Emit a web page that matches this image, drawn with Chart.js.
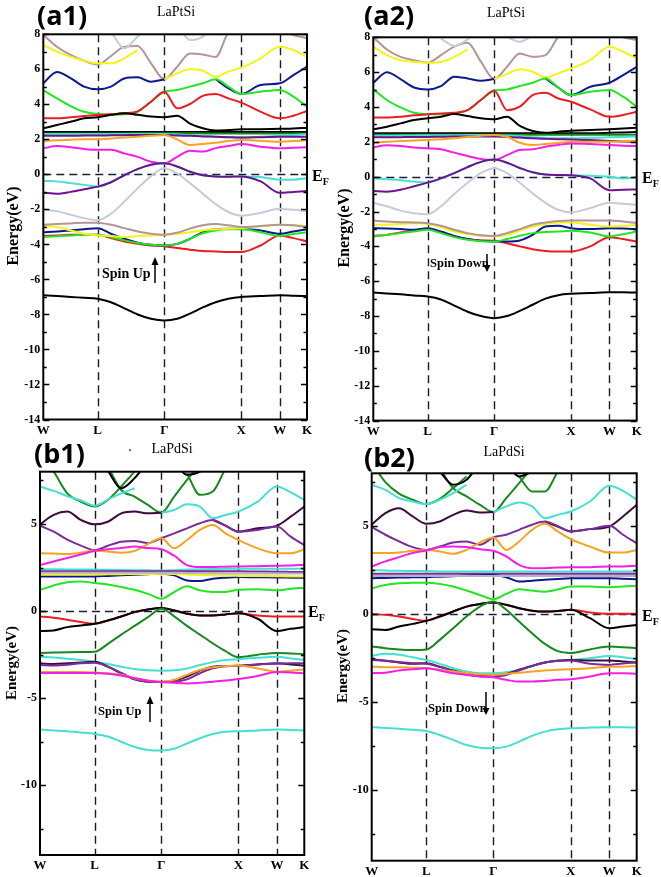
<!DOCTYPE html>
<html><head><meta charset="utf-8">
<script src="https://cdn.jsdelivr.net/npm/chart.js@4.4.1/dist/chart.umd.min.js"></script>
<style>
html,body{margin:0;padding:0;background:#fff}
body{width:661px;height:877px;position:relative;overflow:hidden;font-family:'Liberation Serif',serif;color:#000}
canvas{position:absolute}
.t{position:absolute;white-space:nowrap;line-height:1}
.pl{font-family:'Open Sans',sans-serif;font-weight:700;font-size:27px}
.ti{font-size:14px;transform:translate(-50%,-50%)}
.yt{font-weight:700;transform:translate(-50%,-50%) rotate(-90deg)}
.ef{font-weight:700;font-size:16px;transform:translateY(-50%)}
.ef sub{font-size:10px;vertical-align:-4px}
.sp{font-weight:700;transform:translateY(-50%)}
svg{position:absolute;left:0;top:0}
</style></head><body>
<canvas id="a1" width="330" height="440" style="left:0;top:0"></canvas>
<canvas id="a2" width="331" height="440" style="left:330px;top:0"></canvas>
<canvas id="b1" width="330" height="437" style="left:0;top:440px"></canvas>
<canvas id="b2" width="331" height="437" style="left:330px;top:440px"></canvas>

<div class="t pl" style="left:37px;top:1px">(a1)</div>
<div class="t pl" style="left:364px;top:1px">(a2)</div>
<div class="t pl" style="left:34px;top:439px">(b1)</div>
<div class="t pl" style="left:364px;top:443px">(b2)</div>

<div class="t ti" style="left:176px;top:12px">LaPtSi</div>
<div class="t ti" style="left:506px;top:13px">LaPtSi</div>
<div class="t ti" style="left:130px;top:447px">.</div>
<div class="t ti" style="left:172px;top:449px">LaPdSi</div>
<div class="t ti" style="left:504px;top:452px">LaPdSi</div>

<div class="t yt" style="left:13px;top:226px;font-size:16px">Energy(eV)</div>
<div class="t yt" style="left:344px;top:228px;font-size:16px">Energy(eV)</div>
<div class="t yt" style="left:11px;top:663px;font-size:15px">Energy(eV)</div>
<div class="t yt" style="left:342px;top:666px;font-size:15px">Energy(eV)</div>

<div class="t ef" style="left:312px;top:177px">E<sub>F</sub></div>
<div class="t ef" style="left:642px;top:179px">E<sub>F</sub></div>
<div class="t ef" style="left:308px;top:613px">E<sub>F</sub></div>
<div class="t ef" style="left:642px;top:617px">E<sub>F</sub></div>

<div class="t sp" style="left:102px;top:274px;font-size:14px">Spin Up</div>
<div class="t sp" style="left:430px;top:263px;font-size:12.5px">Spin Down</div>
<div class="t sp" style="left:98px;top:711px;font-size:12.5px">Spin Up</div>
<div class="t sp" style="left:428px;top:708px;font-size:12.5px">Spin Down</div>

<svg width="661" height="877">
  <g stroke="#000" stroke-width="1.5" fill="#000">
    <line x1="155" y1="283" x2="155" y2="263"/><polygon points="151.5,265 158.5,265 155,257" stroke="none"/>
    <line x1="487" y1="254" x2="487" y2="266"/><polygon points="483.5,265 490.5,265 487,272" stroke="none"/>
    <line x1="150" y1="722" x2="150" y2="702"/><polygon points="146.5,704 153.5,704 150,696" stroke="none"/>
    <line x1="486" y1="692" x2="486" y2="709"/><polygon points="482.5,708 489.5,708 486,715" stroke="none"/>
  </g>
</svg>

<script>
// ---- k-path grid (W-L-Γ-X-W-K) ----
const K = [0, 0.177, 0.354, 0.530, 0.707, 0.880, 1.053, 1.226, 1.400, 1.573, 1.740, 1.906, 2.073, 2.240, 2.406, 2.573, 2.823, 3.073, 3.250, 3.427];
const KPOS = [0, 0.707, 1.573, 2.573, 3.073, 3.427];
const KLAB = ['W', 'L', 'Γ', 'X', 'W', 'K'];
const A_TICKS = [-14, -12, -10, -8, -6, -4, -2, 0, 2, 4, 6, 8];
const A_MINOR = [-13, -11, -9, -7, -5, -3, -1, 1, 3, 5, 7];
const B_TICKS = [-10, -5, 0, 5];
const B_MINOR = [-12.5, -7.5, -2.5, 2.5, 7.5];

// ---- (a1) LaPtSi spin up ----
const a1Deep    = [-6.9,-6.95,-7.0,-7.05,-7.1,-7.3,-7.65,-8.0,-8.25,-8.35,-8.25,-7.95,-7.6,-7.3,-7.1,-7.0,-6.95,-6.9,-6.93,-6.95];
const a1RedLo   = [-3.52,-3.49,-3.45,-3.45,-3.45,-3.64,-3.83,-3.97,-4.06,-4.1,-4.21,-4.3,-4.38,-4.4,-4.44,-4.44,-4.06,-3.49,-3.64,-3.83];
const a1GreenLo = [-3.58,-3.53,-3.49,-3.45,-3.45,-3.58,-3.77,-3.92,-4.02,-4.06,-3.97,-3.68,-3.36,-3.2,-3.14,-3.14,-3.3,-3.52,-3.41,-3.3];
const a1BlueLo  = [-3.3,-3.26,-3.2,-3.14,-3.07,-3.39,-3.68,-3.9,-4.02,-4.06,-3.97,-3.68,-3.3,-3.14,-3.1,-3.1,-3.2,-3.39,-3.26,-3.14];
const a1YellowLo= [-2.95,-3.01,-3.2,-3.39,-3.49,-3.52,-3.58,-3.52,-3.49,-3.45,-3.39,-3.3,-3.2,-3.14,-3.1,-3.07,-2.97,-2.88,-2.91,-2.95];
const a1BrownLo = [-2.88,-2.84,-2.8,-2.76,-2.76,-2.88,-3.07,-3.26,-3.39,-3.45,-3.33,-3.1,-2.91,-2.84,-2.91,-3.01,-2.95,-2.88,-2.91,-3.01];
const a1GrayLo  = [-2.0,-2.1,-2.3,-2.5,-2.62,-2.25,-1.55,-0.8,-0.1,0.35,0.05,-0.5,-1.1,-1.7,-2.15,-2.36,-2.2,-1.96,-2.02,-2.1];
const a1Purple  = [-1.05,-1.1,-1.0,-0.85,-0.7,-0.45,-0.05,0.3,0.55,0.63,0.45,0.15,-0.05,-0.12,-0.13,-0.12,-0.4,-1.05,-1.0,-0.95];
const a1Cyan    = [-0.38,-0.4,-0.5,-0.6,-0.7,-0.45,-0.05,0.3,0.55,0.63,0.45,0.15,-0.05,-0.12,-0.13,-0.12,-0.15,-0.3,-0.3,-0.22];
const a1Magenta = [1.49,1.62,1.55,1.45,1.4,1.4,1.2,1.0,0.72,0.63,1.0,1.35,1.3,1.5,1.62,1.73,1.58,1.49,1.52,1.55];
const a1Orange  = [1.9,1.95,1.98,2.0,2.0,2.05,2.1,2.15,2.2,2.25,2.0,1.68,1.73,1.8,1.9,1.96,1.92,1.87,1.9,1.96];
const a1FlatPur = [2.2,2.2,2.2,2.22,2.22,2.23,2.24,2.25,2.25,2.25,2.22,2.2,2.17,2.15,2.12,2.1,2.12,2.15,2.15,2.15];
const a1FlatCyan= [2.3,2.3,2.3,2.3,2.3,2.3,2.3,2.3,2.3,2.3,2.28,2.25,2.2,2.15,2.12,2.1,2.15,2.2,2.25,2.3];
const a1FlatGrn = [2.34,2.34,2.34,2.34,2.34,2.34,2.34,2.35,2.35,2.35,2.35,2.35,2.34,2.34,2.34,2.34,2.34,2.34,2.34,2.34];
const a1FlatBlk = [2.42,2.42,2.42,2.42,2.42,2.42,2.42,2.42,2.42,2.42,2.42,2.42,2.42,2.42,2.42,2.42,2.42,2.42,2.42,2.42];
const a1BlackUp = [2.63,2.82,3.0,3.2,3.26,3.4,3.49,3.4,3.3,3.26,3.35,2.9,2.63,2.5,2.53,2.57,2.58,2.6,2.62,2.67];
const a1RedUp   = [3.2,3.2,3.26,3.33,3.39,3.44,3.49,3.6,4.15,4.72,3.77,4.02,4.48,4.59,4.34,4.1,3.58,3.2,3.35,3.62];
const a1GreenUp = [4.82,4.34,3.9,3.58,3.45,3.41,3.43,3.58,4.15,4.72,4.82,5.01,5.2,5.43,5.01,4.59,4.72,4.82,4.44,3.87];
const a1BlueUp  = [5.2,5.85,5.5,5.01,4.86,5.01,5.48,5.54,5.29,5.43,null,null,null,5.43,4.91,4.59,5.1,5.2,5.67,6.15];
const a1YellowUp= [7.39,7.01,6.72,6.49,6.34,6.34,6.63,7.1,null,5.43,5.77,6.0,5.92,5.58,5.87,6.1,6.63,7.29,7.1,6.72];
const a1BrownUp = [7.96,7.29,6.82,6.49,6.28,6.76,7.29,7.33,6.34,5.43,6.15,6.91,6.85,6.7,8.15,8.8,8.6,8.3,7.96,7.77];
const a1GrayUp  = [null,null,null,null,null,8.15,7.2,7.87,8.6,null,8.6,7.67,7.87,8.6,null,null,null,null,null,null];

// ---- (a2) LaPtSi spin down ----
const a2Deep    = [-6.65,-6.7,-6.75,-6.82,-6.88,-7.05,-7.4,-7.75,-8.0,-8.12,-8.0,-7.7,-7.35,-7.0,-6.8,-6.72,-6.68,-6.63,-6.64,-6.65];
const a2RedLo   = [-3.4,-3.34,-3.2,-3.09,-3.01,-3.2,-3.43,-3.58,-3.66,-3.68,-3.82,-4.0,-4.16,-4.26,-4.29,-4.29,-4.0,-3.47,-3.58,-3.72];
const a2GreenLo = [-3.43,-3.34,-3.24,-3.15,-3.05,-3.24,-3.47,-3.62,-3.7,-3.72,-3.58,-3.39,-3.24,-3.17,-3.15,-3.11,-3.2,-3.43,-3.3,-3.15];
const a2BlueLo  = [-2.96,-2.98,-3.01,-3.05,-2.96,-3.15,-3.4,-3.58,-3.68,-3.72,-3.72,-3.66,-3.34,-2.86,-2.82,-2.96,-3.01,-2.96,-2.98,-3.01];
const a2YellowLo= [-2.76,-2.76,-2.71,-2.67,-2.71,-2.9,-3.15,-3.3,-3.39,-3.43,-3.34,-3.09,-2.86,-2.71,-2.63,-2.63,-2.76,-2.86,-2.82,-2.76];
const a2BrownLo = [-2.52,-2.57,-2.61,-2.63,-2.67,-2.82,-3.05,-3.24,-3.36,-3.4,-3.24,-3.01,-2.76,-2.63,-2.54,-2.52,-2.52,-2.52,-2.57,-2.67];
const a2GrayLo  = [-1.5,-1.7,-1.95,-2.1,-2.15,-1.7,-1.0,-0.35,0.2,0.48,0.2,-0.35,-0.95,-1.5,-1.9,-2.05,-1.8,-1.5,-1.55,-1.62];
const a2Purple  = [-0.82,-0.86,-0.75,-0.55,-0.34,-0.1,0.2,0.55,0.85,0.98,0.8,0.5,0.25,0.12,0.1,0.08,-0.1,-0.78,-0.75,-0.73];
const a2Cyan    = [-0.1,-0.15,-0.2,-0.28,-0.34,-0.1,0.2,0.55,0.85,0.98,0.8,0.5,0.25,0.12,0.1,0.08,0.05,0.0,-0.1,-0.03];
const a2Magenta = [1.68,1.8,1.76,1.68,1.63,1.57,1.38,1.19,1.01,0.96,1.24,1.53,1.57,1.72,1.82,1.91,1.87,1.82,1.78,1.76];
const a2Orange  = [1.95,2.0,2.05,2.08,2.1,2.15,2.2,2.28,2.35,2.39,2.29,1.95,1.82,1.88,1.93,2.0,2.0,2.0,2.03,2.06];
const a2FlatPur = [2.26,2.26,2.27,2.28,2.28,2.29,2.3,2.3,2.3,2.3,2.28,2.25,2.2,2.17,2.15,2.14,2.1,2.05,2.02,2.0];
const a2FlatCyan= [2.35,2.35,2.36,2.37,2.38,2.38,2.38,2.39,2.39,2.39,2.36,2.32,2.27,2.23,2.2,2.2,2.23,2.26,2.28,2.3];
const a2FlatGrn = [2.4,2.4,2.4,2.4,2.4,2.4,2.41,2.41,2.41,2.41,2.41,2.41,2.4,2.4,2.4,2.4,2.4,2.4,2.4,2.4];
const a2FlatBlk = [2.5,2.5,2.5,2.5,2.5,2.5,2.5,2.5,2.5,2.5,2.5,2.5,2.5,2.5,2.5,2.5,2.5,2.52,2.54,2.56];
const a2BlackUp = [2.72,2.87,3.06,3.25,3.35,3.44,3.6,3.48,3.35,3.29,3.44,2.91,2.62,2.52,2.58,2.64,2.68,2.72,2.76,2.81];
const a2RedUp   = [3.4,3.4,3.44,3.52,3.58,3.63,3.67,3.82,4.4,4.93,3.82,4.02,4.68,4.82,4.49,4.3,3.86,3.44,3.54,3.73];
const a2GreenUp = [5.01,4.4,3.98,3.67,3.59,3.59,3.63,3.82,4.4,4.93,5.01,5.2,5.39,5.64,5.12,4.68,4.88,4.97,4.59,4.02];
const a2BlueUp  = [5.39,6.0,5.6,5.12,5.01,5.2,5.74,5.64,5.51,5.6,null,null,null,5.64,5.12,4.68,5.16,5.39,5.83,6.31];
const a2YellowUp= [7.46,6.98,6.69,6.6,6.54,6.58,6.88,7.3,null,5.6,5.89,6.16,6.02,5.7,5.93,6.21,6.69,7.46,7.17,6.79];
const a2BrownUp = [8.0,7.3,6.88,6.69,6.54,6.98,7.46,7.69,6.6,5.6,6.31,7.07,6.88,6.98,8.03,8.7,8.6,8.3,8.0,7.84];
const a2GrayUp  = [null,null,null,null,null,7.93,7.5,7.88,8.6,null,8.03,7.74,8.13,8.6,null,null,null,null,null,null];

// ---- (b1) LaPdSi spin up ----
const b1Deep    = [-6.8,-6.85,-6.9,-6.97,-7.05,-7.2,-7.5,-7.8,-7.97,-8.0,-7.9,-7.6,-7.3,-7.05,-6.92,-6.9,-6.85,-6.8,-6.83,-6.86];
const b1MagLo   = [-3.55,-3.55,-3.55,-3.55,-3.55,-3.6,-3.7,-3.85,-4.0,-4.07,-4.12,-4.15,-4.12,-4.05,-3.98,-3.9,-3.72,-3.5,-3.52,-3.57];
const b1OrangeLo= [-3.5,-3.5,-3.5,-3.5,-3.52,-3.57,-3.66,-3.86,-3.99,-4.05,-3.95,-3.66,-3.38,-3.23,-3.16,-3.12,-3.29,-3.48,-3.42,-3.35];
const b1PurLo   = [-3.1,-3.12,-3.08,-3.0,-2.97,-3.19,-3.55,-3.9,-4.05,-4.07,-4.05,-3.92,-3.57,-3.29,-3.16,-3.14,-3.06,-3.02,-3.0,-3.0];
const b1DPurLo  = [-3.0,-3.04,-3.0,-2.95,-2.91,-3.19,-3.57,-3.92,-4.05,-4.07,-3.99,-3.76,-3.42,-3.19,-3.15,-3.14,-3.06,-3.0,-3.06,-3.14];
const b1CyanLo  = [-2.62,-2.66,-2.74,-2.81,-2.91,-3.04,-3.19,-3.33,-3.4,-3.42,-3.4,-3.29,-3.1,-2.93,-2.81,-2.76,-2.68,-2.62,-2.72,-2.81];
const b1DGreenV = [-2.4,-2.38,-2.36,-2.35,-2.34,-1.88,-1.35,-0.85,-0.35,0.13,-0.3,-0.85,-1.35,-1.85,-2.3,-2.65,-2.5,-2.4,-2.43,-2.47];
const b1Black   = [-1.15,-1.11,-0.92,-0.83,-0.73,-0.54,-0.31,-0.06,0.09,0.17,0.04,-0.15,-0.25,-0.25,-0.19,-0.12,-0.44,-1.15,-1.02,-0.92];
const b1Red     = [-0.31,-0.38,-0.5,-0.63,-0.73,-0.54,-0.31,-0.06,0.09,0.17,0.04,-0.15,-0.25,-0.25,-0.19,-0.12,-0.25,-0.31,-0.31,-0.31];
const b1Green   = [1.22,1.47,1.66,1.7,1.61,1.53,1.38,1.22,0.99,0.71,1.09,1.42,1.19,1.09,1.1,1.22,1.25,1.19,1.28,1.34];
const b1Blue    = [1.99,1.99,1.99,1.99,1.99,2.02,2.05,2.09,2.12,2.14,2.05,1.76,1.72,1.86,1.92,1.95,1.94,1.93,1.92,1.91];
const b1Yellow  = [2.1,2.1,2.1,2.1,2.1,2.11,2.12,2.13,2.13,2.14,2.13,2.1,2.07,2.05,2.03,2.02,2.01,2.0,1.99,1.99];
const b1FlatGray= [2.2,2.2,2.2,2.2,2.2,2.2,2.2,2.2,2.2,2.2,2.2,2.19,2.18,2.17,2.16,2.15,2.15,2.15,2.15,2.15];
const b1FlatPur = [2.28,2.28,2.28,2.28,2.28,2.28,2.28,2.28,2.28,2.28,2.28,2.28,2.28,2.28,2.28,2.28,2.27,2.26,2.25,2.24];
const b1FlatCyan= [2.4,2.4,2.39,2.39,2.38,2.37,2.36,2.35,2.34,2.33,2.35,2.38,2.4,2.42,2.43,2.43,2.43,2.43,2.43,2.43];
const b1MagUp   = [2.65,2.85,3.05,3.25,3.45,3.55,3.62,3.7,3.62,3.55,3.18,2.64,2.53,2.53,2.55,2.56,2.58,2.6,2.62,2.65];
const b1OrangeUp= [3.32,3.3,3.28,3.35,3.47,3.42,3.35,3.45,3.85,4.18,3.6,4.08,4.66,4.94,4.46,4.08,3.6,3.32,3.32,3.54];
const b1PurUp   = [4.9,4.56,4.1,3.76,3.5,3.75,3.98,4.02,3.9,4.18,4.46,4.75,5.04,5.23,4.9,4.56,4.66,4.85,4.27,3.79];
const b1DPurUp  = [4.98,5.52,5.71,5.23,4.98,5.13,5.61,5.71,5.61,5.65,null,null,null,5.23,4.9,4.56,4.75,4.9,5.42,6.0];
const b1CyanUp  = [7.15,6.9,6.6,6.35,6.05,6.4,6.76,7.05,null,5.65,5.8,6.13,6.0,5.33,5.52,5.71,6.28,7.15,6.82,6.38];
const b1DGreen1 = [8.9,8.0,6.76,6.28,6.0,6.38,7.15,8.0,null,null,null,null,null,null,null,null,null,null,null,null];
const b1DGreen2 = [null,null,null,null,null,8.3,6.95,6.57,6.09,5.65,6.57,7.53,8.4,null,null,null,null,null,null,null];
const b1DGreen3 = [null,null,null,null,null,null,null,null,null,null,null,7.9,6.67,6.86,8.2,null,null,null,null,null];
const b1BlackUp1= [null,null,null,null,null,8.05,7.05,7.63,8.6,null,null,null,null,null,null,null,null,null,null,null];
const b1BlackUp2= [null,null,null,null,null,null,null,null,null,null,8.6,7.82,8.0,8.6,null,null,null,null,null,null];

// ---- (b2) LaPdSi spin down ----
const b2Deep    = [-6.42,-6.46,-6.5,-6.56,-6.63,-6.86,-7.14,-7.43,-7.58,-7.62,-7.52,-7.24,-6.91,-6.67,-6.54,-6.48,-6.44,-6.42,-6.42,-6.44];
const b2MagLo   = [-3.35,-3.32,-3.2,-3.13,-3.07,-3.2,-3.35,-3.45,-3.54,-3.58,-3.73,-3.83,-3.83,-3.79,-3.73,-3.7,-3.54,-3.35,-3.35,-3.39];
const b2OrangeLo= [-2.98,-3.01,-3.01,-3.04,-3.07,-3.16,-3.26,-3.35,-3.41,-3.45,-3.39,-3.32,-3.26,-3.2,-3.16,-3.13,-3.07,-2.98,-2.98,-2.94];
const b2PurLo   = [-2.6,-2.65,-2.72,-2.78,-2.82,-3.0,-3.22,-3.42,-3.52,-3.54,-3.45,-3.2,-2.94,-2.75,-2.65,-2.63,-2.82,-2.88,-2.8,-2.75];
const b2DPurLo  = [-2.56,-2.65,-2.75,-2.82,-2.79,-2.98,-3.2,-3.39,-3.5,-3.5,-3.39,-3.16,-2.94,-2.75,-2.65,-2.6,-2.63,-2.63,-2.69,-2.75];
const b2CyanLo  = [-2.37,-2.25,-2.3,-2.45,-2.6,-2.82,-3.07,-3.26,-3.35,-3.35,-3.3,-3.16,-2.94,-2.75,-2.63,-2.6,-2.5,-2.37,-2.45,-2.56];
const b2DGreenV = [-1.84,-1.93,-2.0,-2.03,-2.0,-1.46,-0.8,-0.13,0.43,0.72,0.25,-0.42,-1.08,-1.69,-2.1,-2.2,-2.0,-1.84,-1.88,-1.93];
const b2Black   = [-0.86,-0.9,-0.7,-0.55,-0.38,-0.13,0.15,0.43,0.58,0.66,0.53,0.34,0.2,0.15,0.18,0.25,-0.23,-0.8,-0.7,-0.61];
const b2Red     = [0.0,-0.04,-0.13,-0.27,-0.38,-0.13,0.15,0.43,0.58,0.66,0.53,0.34,0.2,0.15,0.18,0.25,0.09,0.02,0.02,0.02];
const b2Green   = [1.47,1.66,1.75,1.79,1.79,1.72,1.57,1.34,1.09,0.85,1.15,1.42,1.34,1.28,1.4,1.57,1.57,1.53,1.57,1.62];
const b2Blue    = [2.04,2.06,2.08,2.09,2.1,2.13,2.16,2.19,2.21,2.23,2.1,1.85,1.9,1.96,2.0,2.04,2.04,2.04,2.01,1.98];
const b2FlatGray= [2.17,2.17,2.17,2.17,2.17,2.17,2.17,2.17,2.17,2.17,2.17,2.17,2.17,2.17,2.17,2.17,2.17,2.17,2.17,2.17];
const b2FlatPur = [2.29,2.29,2.29,2.29,2.29,2.29,2.29,2.29,2.29,2.29,2.29,2.29,2.29,2.29,2.29,2.29,2.29,2.29,2.29,2.29];
const b2FlatCyan= [2.5,2.48,2.46,2.45,2.44,2.43,2.43,2.42,2.42,2.42,2.42,2.42,2.42,2.42,2.42,2.42,2.42,2.42,2.42,2.42];
const b2MagUp   = [2.71,3.0,3.24,3.47,3.62,3.81,3.84,3.81,3.69,3.6,3.28,2.8,2.61,2.61,2.65,2.67,2.67,2.71,2.71,2.75];
const b2OrangeUp= [3.47,3.47,3.5,3.6,3.65,3.56,3.43,3.65,4.07,4.36,3.65,4.13,4.79,5.13,4.7,4.26,3.84,3.5,3.5,3.65];
const b2PurUp   = [4.94,4.51,4.13,3.81,3.65,3.84,4.07,4.13,3.94,4.36,4.51,4.79,5.08,5.26,5.0,4.7,4.83,5.02,4.51,4.03];
const b2DPurUp  = [5.08,5.74,6.02,5.55,5.13,5.26,5.64,5.89,5.78,5.8,null,null,null,5.26,4.98,4.7,4.83,4.98,5.55,6.21];
const b2CyanUp  = [7.35,7.06,6.59,6.4,6.25,6.5,6.87,7.35,null,5.8,6.12,6.34,6.12,5.45,5.64,5.83,6.4,7.29,7.0,6.5];
const b2DGreen1 = [8.6,7.5,6.85,6.5,6.25,6.55,7.16,7.82,null,null,null,null,null,null,null,null,null,null,null,null];
const b2DGreen2 = [null,null,null,null,null,8.3,7.16,6.69,6.21,5.8,6.59,7.44,8.3,null,null,null,null,null,null,null];
const b2DGreen3 = [null,null,null,null,null,null,null,null,null,null,null,7.82,6.97,6.97,8.1,null,null,null,null,null];
const b2BlackUp1= [null,null,null,null,null,8.1,7.35,7.63,8.6,null,null,null,null,null,null,null,null,null,null,null];
const b2BlackUp2= [null,null,null,null,null,null,null,null,null,null,8.6,7.82,8.1,null,null,null,null,null,null,null];

// ---- styles ----
const C = {
  black:'#000000', red:'#ec1c24', green:'#22e622', blue:'#0c1890', yellow:'#f4f416', brown:'#b39595',
  gray:'#c9c9dc', cyan:'#44e0d0', purple:'#6c1490', magenta:'#f41ee6', orange:'#f5a421', dgreen:'#168a1e',
  dpurple:'#3e0b40', mpurple:'#7a2c98', lgray:'#b8b0c8'
};

const A1 = [[a1GrayUp,'gray'],[a1GrayLo,'gray'],[a1BrownLo,'brown'],[a1YellowLo,'yellow'],[a1GreenLo,'green'],[a1BlueLo,'blue'],[a1RedLo,'red'],
  [a1Deep,'black'],[a1Purple,'purple'],[a1Cyan,'cyan'],[a1Magenta,'magenta'],[a1Orange,'orange'],[a1FlatPur,'purple'],[a1FlatCyan,'cyan'],
  [a1FlatGrn,'dgreen'],[a1FlatBlk,'black'],[a1BlackUp,'black'],[a1RedUp,'red'],[a1GreenUp,'green'],[a1BlueUp,'blue'],[a1YellowUp,'yellow'],[a1BrownUp,'brown']];
const A2 = [[a2GrayUp,'gray'],[a2GrayLo,'gray'],[a2BrownLo,'brown'],[a2YellowLo,'yellow'],[a2GreenLo,'green'],[a2BlueLo,'blue'],[a2RedLo,'red'],
  [a2Deep,'black'],[a2Purple,'purple'],[a2Cyan,'cyan'],[a2Magenta,'magenta'],[a2Orange,'orange'],[a2FlatPur,'purple'],[a2FlatCyan,'cyan'],
  [a2FlatGrn,'dgreen'],[a2FlatBlk,'black'],[a2BlackUp,'black'],[a2RedUp,'red'],[a2GreenUp,'green'],[a2BlueUp,'blue'],[a2YellowUp,'yellow'],[a2BrownUp,'brown']];
const B1 = [[b1Deep,'cyan'],[b1MagLo,'magenta'],[b1OrangeLo,'orange'],[b1PurLo,'mpurple'],[b1DPurLo,'dpurple'],[b1CyanLo,'cyan'],[b1DGreenV,'dgreen'],
  [b1Black,'black'],[b1Red,'red'],[b1Green,'green'],[b1FlatGray,'lgray'],[b1Yellow,'yellow'],[b1Blue,'blue'],[b1FlatPur,'mpurple'],[b1FlatCyan,'cyan'],
  [b1MagUp,'magenta'],[b1OrangeUp,'orange'],[b1PurUp,'mpurple'],[b1DPurUp,'dpurple'],[b1CyanUp,'cyan'],[b1BlackUp1,'black'],[b1BlackUp2,'black'],
  [b1DGreen1,'dgreen'],[b1DGreen2,'dgreen'],[b1DGreen3,'dgreen']];
const B2 = [[b2Deep,'cyan'],[b2MagLo,'magenta'],[b2OrangeLo,'orange'],[b2PurLo,'mpurple'],[b2DPurLo,'dpurple'],[b2CyanLo,'cyan'],[b2DGreenV,'dgreen'],
  [b2Black,'black'],[b2Red,'red'],[b2Green,'green'],[b2FlatGray,'lgray'],[b2Blue,'blue'],[b2FlatPur,'mpurple'],[b2FlatCyan,'cyan'],
  [b2MagUp,'magenta'],[b2OrangeUp,'orange'],[b2PurUp,'mpurple'],[b2DPurUp,'dpurple'],[b2CyanUp,'cyan'],[b2BlackUp1,'black'],[b2BlackUp2,'black'],
  [b2DGreen1,'dgreen'],[b2DGreen2,'dgreen'],[b2DGreen3,'dgreen']];

const deco = {
  id: 'deco',
  beforeDatasetsDraw(chart, args, o) {
    const {ctx, chartArea: {left, right, top, bottom}, scales: {x, y}} = chart;
    ctx.save();
    ctx.lineWidth = 1.4; ctx.setLineDash([8, 5]);
    ctx.strokeStyle = '#1a1a2a';
    KPOS.slice(1, -1).forEach(k => {
      const px = Math.round(x.getPixelForValue(k)) + 0.5;
      ctx.beginPath(); ctx.moveTo(px, top); ctx.lineTo(px, bottom); ctx.stroke();
    });
    ctx.strokeStyle = '#1c1c40';
    const py = Math.round(y.getPixelForValue(0)) + 0.5;
    ctx.beginPath(); ctx.moveTo(left, py); ctx.lineTo(right, py); ctx.stroke();
    ctx.restore();
  },
  afterDatasetsDraw(chart, args, o) {
    const {ctx, chartArea: {left, right, top, bottom}, scales: {y}} = chart;
    ctx.save();
    ctx.strokeStyle = '#000'; ctx.lineWidth = 1.6;
    const tick = (v, len) => {
      const py = Math.round(y.getPixelForValue(v)) + 0.5;
      ctx.beginPath(); ctx.moveTo(left, py); ctx.lineTo(left + len, py);
      ctx.moveTo(right, py); ctx.lineTo(right - len, py); ctx.stroke();
    };
    o.major.forEach(v => tick(v, 6));
    o.minor.forEach(v => tick(v, 3.5));
    ctx.lineWidth = 2;
    ctx.strokeRect(left, top, right - left, bottom - top);
    ctx.restore();
  }
};

const XH = 16;
function makeChart(id, bands, g, major, minor) {
  const cv = document.getElementById(id);
  const W = cv.width, H = cv.height;
  return new Chart(cv, {
    type: 'line',
    data: {
      datasets: bands.map(([vals, col]) => ({
        data: K.map((k, i) => ({x: k, y: vals[i]})),
        borderColor: C[col], borderWidth: 2, pointRadius: 0, fill: false,
        cubicInterpolationMode: 'monotone', spanGaps: false
      }))
    },
    options: {
      responsive: false, animation: false, devicePixelRatio: 1, events: [],
      layout: {padding: {left: 0, top: g.top, right: W - g.right, bottom: H - g.bottom - XH}},
      plugins: {legend: {display: false}, tooltip: {enabled: false}, deco: {major, minor}},
      scales: {
        x: {
          type: 'linear', min: 0, max: KPOS[KPOS.length - 1],
          grid: {display: false, drawTicks: false}, border: {display: false},
          afterBuildTicks: ax => { ax.ticks = KPOS.map(v => ({value: v})); },
          afterFit: ax => { ax.height = XH; },
          ticks: {autoSkip: false, maxRotation: 0, padding: 3, color: '#000',
            font: {family: 'Liberation Serif', weight: 'bold', size: 13},
            callback: (v, i) => KLAB[i]}
        },
        y: {
          type: 'linear', min: -14, max: 8,
          grid: {display: false, drawTicks: false}, border: {display: false},
          afterBuildTicks: ax => { ax.ticks = major.map(v => ({value: v})); },
          afterFit: ax => { ax.width = g.left; },
          ticks: {padding: 3, color: '#000', font: {family: 'Liberation Serif', weight: 'bold', size: 12}}
        }
      }
    },
    plugins: [deco]
  });
}

makeChart('a1', A1, {left: 43.3, right: 307, top: 34.3, bottom: 419.5}, A_TICKS, A_MINOR);
makeChart('a2', A2, {left: 43.3, right: 306.7, top: 37.3, bottom: 420.6}, A_TICKS, A_MINOR);
makeChart('b1', B1, {left: 40, right: 304.3, top: 31.7, bottom: 415}, B_TICKS, B_MINOR);
makeChart('b2', B2, {left: 41.7, right: 306.7, top: 33.3, bottom: 420.7}, B_TICKS, B_MINOR);
</script>
</body></html>
